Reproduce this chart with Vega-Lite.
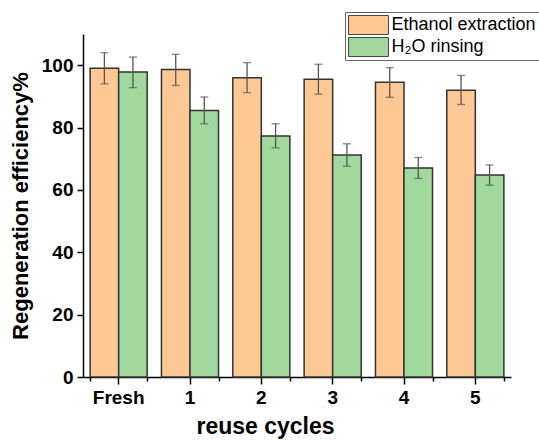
{
  "$schema": "https://vega.github.io/schema/vega-lite/v6.json",
  "width": 428,
  "height": 343,
  "autosize": {"type": "none"},
  "padding": {"left": 83, "top": 34, "right": 28, "bottom": 63},
  "background": "white",
  "config": {"view": {"stroke": null}, "font": "Liberation Sans"},
  "data": {
    "values": [
      {"cycle": "Fresh", "method": "Ethanol extraction", "value": 99.0, "lo": 94.0, "hi": 104.0},
      {"cycle": "Fresh", "method": "H₂O rinsing", "value": 97.8, "lo": 92.8, "hi": 102.6},
      {"cycle": "1", "method": "Ethanol extraction", "value": 98.6, "lo": 93.5, "hi": 103.5},
      {"cycle": "1", "method": "H₂O rinsing", "value": 85.5, "lo": 81.2, "hi": 89.8},
      {"cycle": "2", "method": "Ethanol extraction", "value": 96.0, "lo": 91.2, "hi": 100.8},
      {"cycle": "2", "method": "H₂O rinsing", "value": 77.3, "lo": 73.5, "hi": 81.2},
      {"cycle": "3", "method": "Ethanol extraction", "value": 95.5, "lo": 90.7, "hi": 100.3},
      {"cycle": "3", "method": "H₂O rinsing", "value": 71.2, "lo": 67.6, "hi": 74.8},
      {"cycle": "4", "method": "Ethanol extraction", "value": 94.5, "lo": 89.7, "hi": 99.2},
      {"cycle": "4", "method": "H₂O rinsing", "value": 67.0, "lo": 63.7, "hi": 70.4},
      {"cycle": "5", "method": "Ethanol extraction", "value": 92.0, "lo": 87.4, "hi": 96.7},
      {"cycle": "5", "method": "H₂O rinsing", "value": 64.8, "lo": 61.5, "hi": 68.0}
    ]
  },
  "encoding": {
    "x": {
      "field": "cycle",
      "type": "nominal",
      "sort": ["Fresh", "1", "2", "3", "4", "5"],
      "scale": {"paddingInner": 0.2, "paddingOuter": 0.1},
      "axis": null
    },
    "xOffset": {
      "field": "method",
      "sort": ["Ethanol extraction", "H₂O rinsing"],
      "scale": {"paddingInner": 0, "paddingOuter": 0}
    }
  },
  "resolve": {"axis": {"x": "independent"}},
  "layer": [
    {
      "mark": {"type": "bar", "stroke": "#333", "strokeWidth": 1.5},
      "encoding": {
        "x": {
          "field": "cycle",
          "type": "nominal",
          "sort": ["Fresh", "1", "2", "3", "4", "5"],
          "title": "reuse cycles",
          "axis": {
            "orient": "bottom",
            "labelAngle": 0,
            "grid": false,
            "domainColor": "#000",
            "domainWidth": 1.5,
            "tickColor": "#000",
            "tickWidth": 1.5,
            "tickSize": 7,
            "labelFontSize": 19,
            "labelFontWeight": "bold",
            "labelColor": "#000",
            "labelPadding": 4,
            "titleFontSize": 23,
            "titleFontWeight": "bold",
            "titleColor": "#000",
            "titlePadding": 8,
            "titleX": 182
          }
        },
        "y": {
          "field": "value",
          "type": "quantitative",
          "title": "Regeneration efficiency%",
          "scale": {"domain": [0, 110], "nice": false},
          "axis": {
            "values": [0, 10, 20, 30, 40, 50, 60, 70, 80, 90, 100],
            "labelExpr": "datum.value % 20 === 0 ? datum.label : ''",
            "tickSize": {"condition": {"test": "datum.value % 20 === 0", "value": 6}, "value": 3},
            "grid": false,
            "domainColor": "#000",
            "domainWidth": 1.5,
            "tickColor": "#000",
            "tickWidth": 1.5,
            "labelFontSize": 19,
            "labelFontWeight": "bold",
            "labelColor": "#000",
            "labelPadding": 4,
            "titleFontSize": 22,
            "titleFontWeight": "bold",
            "titleColor": "#000",
            "titlePadding": 9
          }
        },
        "color": {
          "field": "method",
          "type": "nominal",
          "scale": {"domain": ["Ethanol extraction", "H₂O rinsing"], "range": ["#FEC895", "#A0D89D"]},
          "legend": {
            "title": null,
            "orient": "none",
            "legendX": 262,
            "legendY": -22,
            "symbolType": "M-2.1,-1L2.1,-1L2.1,1L-2.1,1Z",
            "symbolSize": 361,
            "symbolOffset": 10.5,
            "symbolStrokeColor": "#444",
            "symbolStrokeWidth": 1,
            "labelFontSize": 18,
            "labelColor": "#000",
            "labelOffset": 13,
            "clipHeight": 20,
            "rowPadding": 2,
            "padding": 3,
            "strokeColor": "#666",
            "fillColor": "white"
          }
        }
      }
    },
    {
      "mark": {"type": "rule", "color": "#555", "strokeWidth": 1.3},
      "encoding": {
        "x": {
          "field": "cycle",
          "type": "nominal",
          "sort": ["Fresh", "1", "2", "3", "4", "5"],
          "axis": {
            "orient": "bottom",
            "tickBand": "extent",
            "labels": false,
            "domain": false,
            "title": null,
            "grid": false,
            "tickColor": "#000",
            "tickWidth": 1.5,
            "tickSize": 4
          }
        },
        "y": {"field": "lo", "type": "quantitative", "title": "Regeneration efficiency%"},
        "y2": {"field": "hi"}
      }
    },
    {
      "mark": {"type": "tick", "color": "#555", "thickness": 1.3, "size": 8},
      "encoding": {
        "y": {"field": "lo", "type": "quantitative", "title": "Regeneration efficiency%"}
      }
    },
    {
      "mark": {"type": "tick", "color": "#555", "thickness": 1.3, "size": 8},
      "encoding": {
        "y": {"field": "hi", "type": "quantitative", "title": "Regeneration efficiency%"}
      }
    }
  ]
}
